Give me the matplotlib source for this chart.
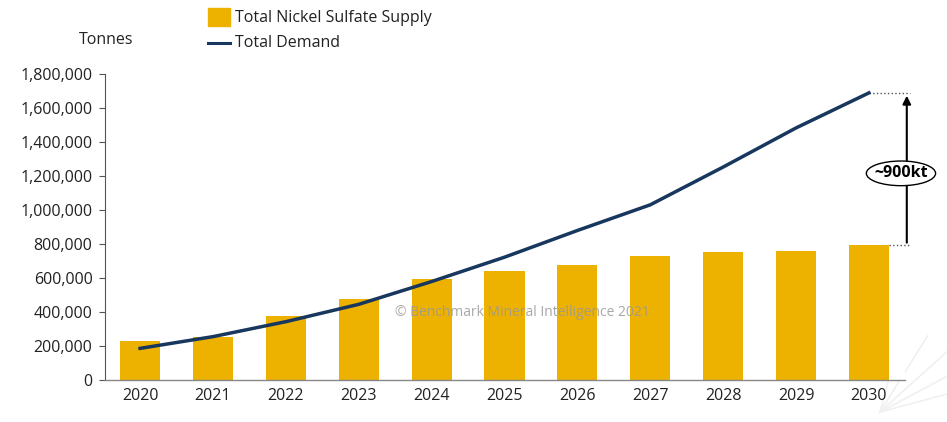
import matplotlib
matplotlib.use("Agg")
from matplotlib import pyplot as plt
from matplotlib.patches import Ellipse
import numpy as np

years = ['2020', '2021', '2022', '2023', '2024', '2025', '2026', '2027', '2028', '2029', '2030']
supply = [230000, 255000, 377000, 475000, 591000, 642000, 675000, 730000, 752000, 761000, 791000]
demand = [186000, 255000, 343000, 445000, 579000, 722000, 879000, 1030000, 1252000, 1482000, 1688000]
gap_label = '~900kt'

plt.rcParams['font.family'] = ['Open Sans', 'DejaVu Sans']

yellow = '#EDB100'
navy = '#17375E'
txt = '#222222'

fig = plt.figure(figsize=(9.47, 4.22), dpi=100)
ax = fig.add_axes([0.111, 0.0995, 0.845, 0.7255])

x = np.arange(len(years))
ax.bar(x, supply, width=0.55, color=yellow, zorder=2)
ax.plot(x, demand, color=navy, lw=2.5, zorder=3)

ax.set_xlim(-0.48, 10.5)
ax.set_ylim(0, 1800000)
ax.set_yticks(np.arange(0, 1800001, 200000))
ax.yaxis.set_major_formatter(matplotlib.ticker.FuncFormatter(lambda v, p: f'{int(v):,}'))
ax.set_xticks(x)
ax.set_xticklabels(years)
ax.tick_params(axis='x', length=0, pad=6, labelsize=11.5, labelcolor=txt)
ax.tick_params(axis='y', length=4, width=0.8, color='#555555', pad=5, labelsize=11.5, labelcolor=txt)

for s in ['top', 'right']:
    ax.spines[s].set_visible(False)
ax.spines['left'].set_color('#555555')
ax.spines['left'].set_linewidth(0.8)
ax.spines['bottom'].set_color('#888888')
ax.spines['bottom'].set_linewidth(1.0)

# gap between demand and supply in 2030
top = demand[-1]
bot = supply[-1]
xa = 10.52
ax.plot([x[-1], xa + 0.05], [top, top], ls=':', color='#555555', lw=1, clip_on=False)
ax.plot([x[-1] + 0.275, xa + 0.05], [bot, bot], ls=':', color='#555555', lw=1, clip_on=False)
ax.annotate('', xy=(xa, top), xytext=(xa, bot),
            arrowprops=dict(arrowstyle='-|>', color='black', lw=1.5, mutation_scale=12),
            annotation_clip=False)
ymid = 1215000
ax.add_patch(Ellipse((xa - 0.08, ymid), 0.95, 145000, facecolor='white', edgecolor='black',
                     lw=1, zorder=5, clip_on=False))
ax.text(xa - 0.08, ymid, gap_label, ha='center', va='center', fontsize=11.5,
        fontweight='bold', color='black', zorder=6)

ax.text(0.521, 0.22, '\u00a9 Benchmark Mineral Intelligence 2021', transform=ax.transAxes,
        ha='center', va='center', fontsize=10, color='#999999', alpha=0.85, zorder=4)

# legend and axis unit
fig.patches.append(matplotlib.patches.Rectangle((208 / 947, 1 - 26 / 422), 22 / 947, 18 / 422,
                                                transform=fig.transFigure, color=yellow))
fig.add_artist(matplotlib.lines.Line2D([208 / 947, 230 / 947], [1 - 43 / 422, 1 - 43 / 422],
                                       color=navy, lw=2.2))
fig.text(235 / 947, 1 - 18 / 422, 'Total Nickel Sulfate Supply', ha='left', va='center',
         fontsize=11.5, color=txt)
fig.text(235 / 947, 1 - 43 / 422, 'Total Demand', ha='left', va='center',
         fontsize=11.5, color=txt)
fig.text(106 / 947, 1 - 40 / 422, 'Tonnes', ha='center', va='center', fontsize=11.5, color=txt)

# faint rays in the lower right corner
for ang in [15, 28, 42, 58, 75]:
    a = np.deg2rad(ang)
    fig.add_artist(matplotlib.lines.Line2D([880 / 947, (880 + 90 * np.cos(a)) / 947],
                                           [1 - 412 / 422, 1 - (412 - 90 * np.sin(a)) / 422],
                                           color='#f0f0f0', lw=1.2, zorder=0))

fig.savefig('out.png', dpi=100, facecolor='white')
